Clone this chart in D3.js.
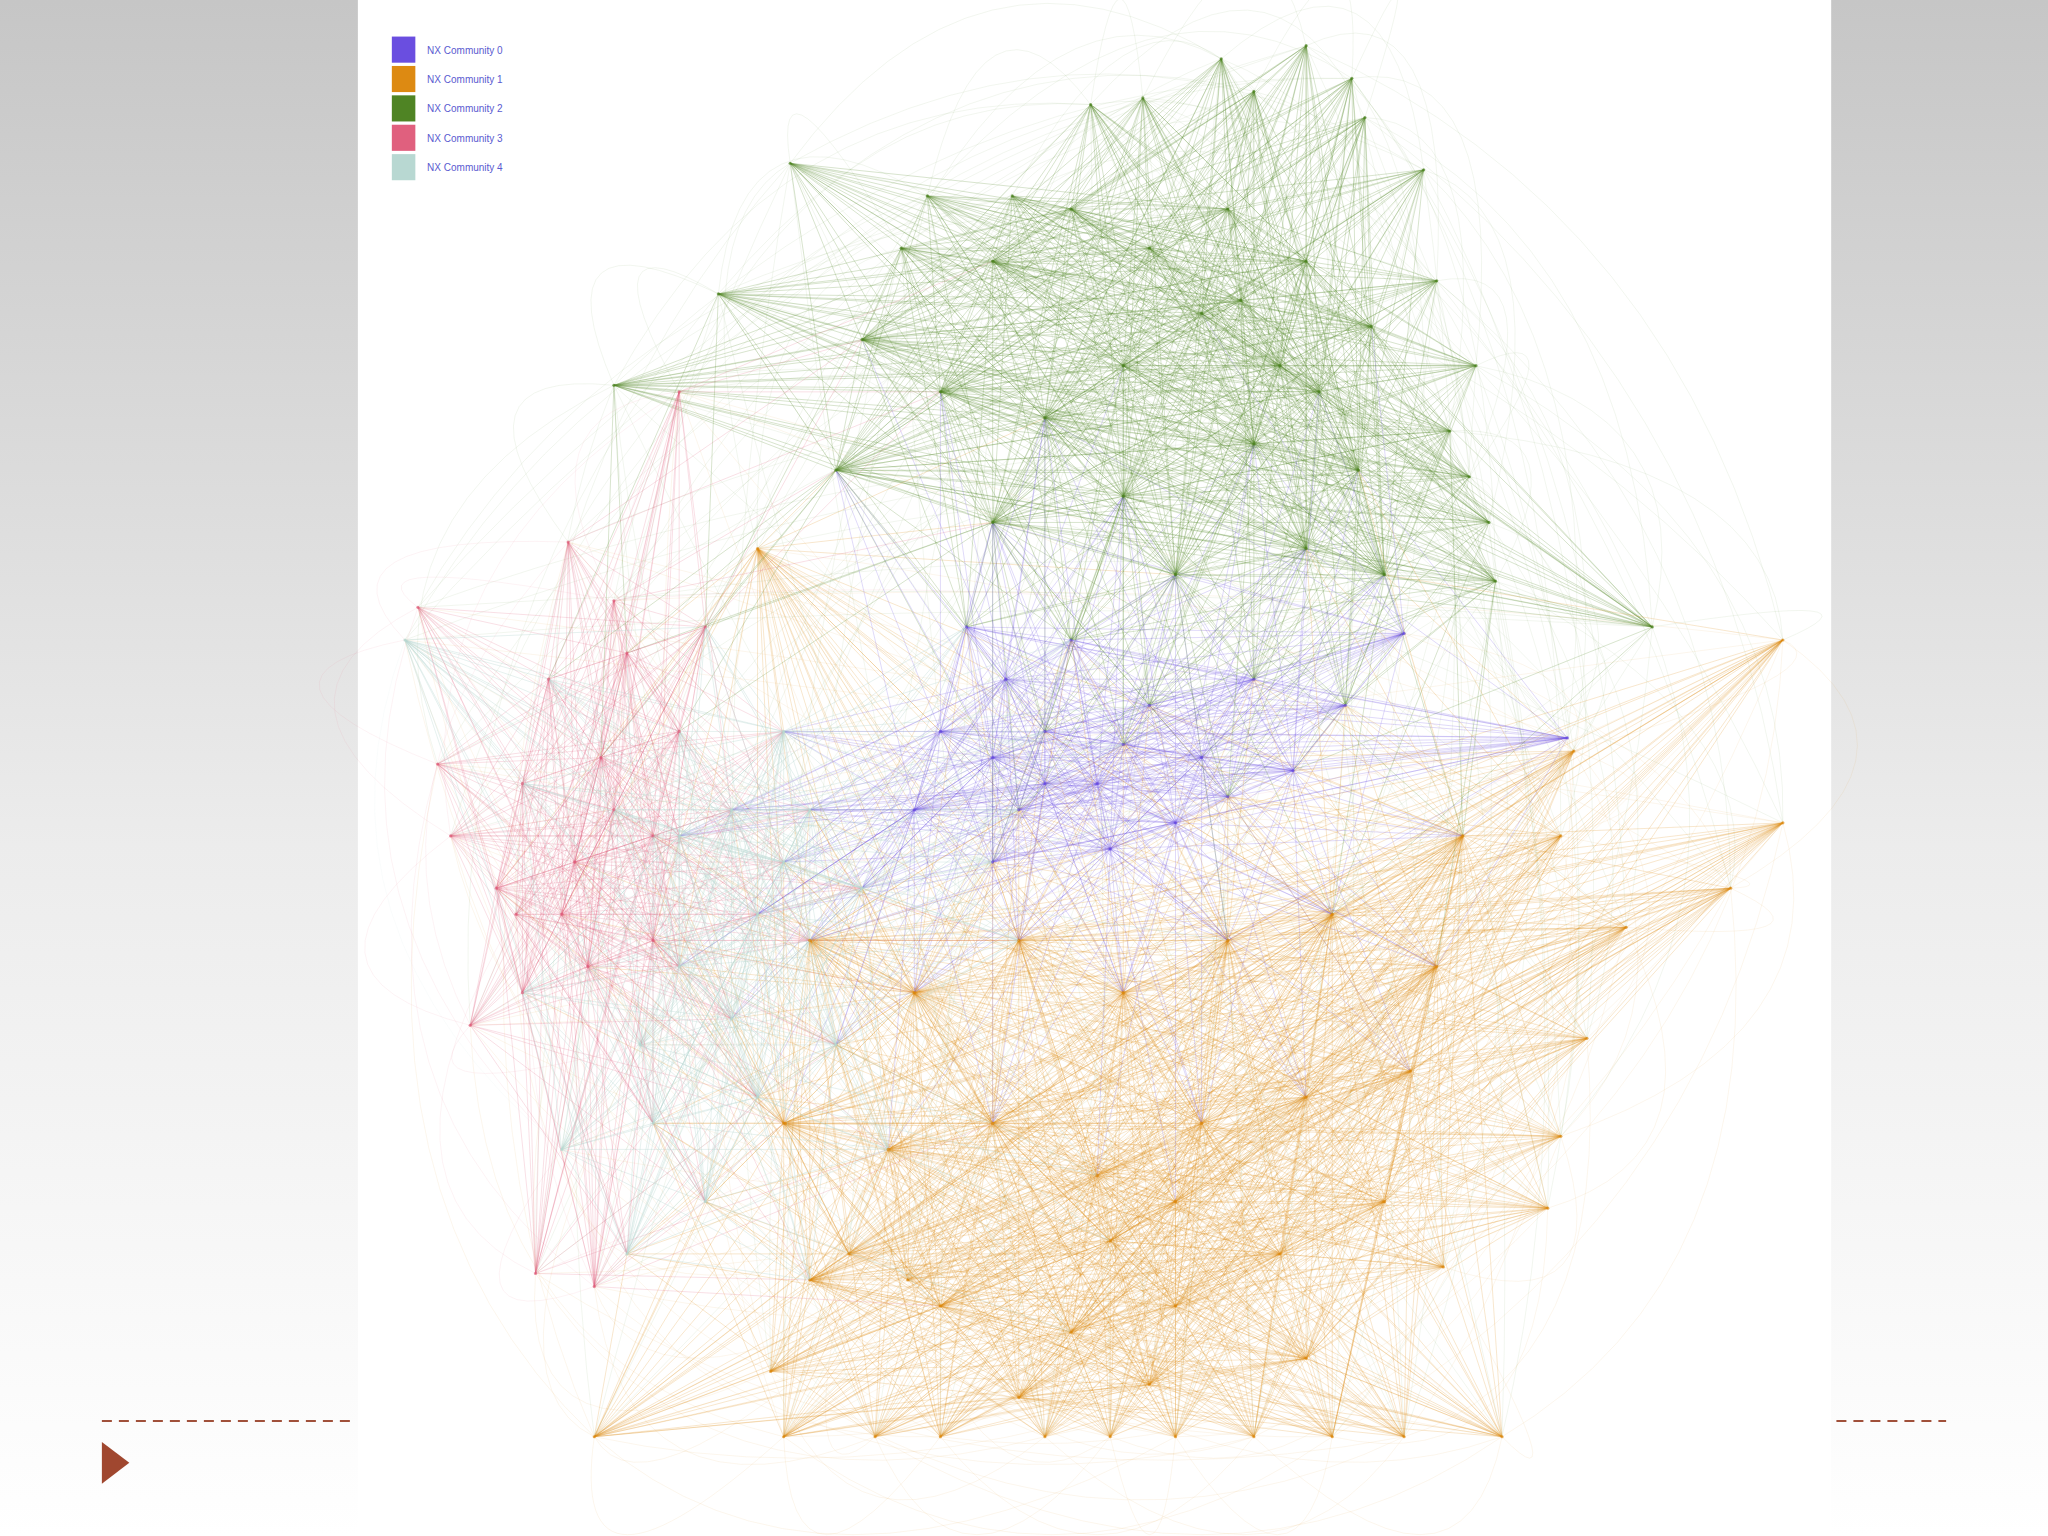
<!DOCTYPE html>
<html><head><meta charset="utf-8">
<script src="https://cdn.jsdelivr.net/npm/d3@7"></script>
<style>body{margin:0;overflow:hidden}svg{display:block}</style>
</head><body>
<svg id="chart" width="2048" height="1536"></svg>
<script>
// community names and colours
const communities = ["NX Community 0", "NX Community 1", "NX Community 2", "NX Community 3", "NX Community 4"];
const colors = ["#6a4ee0", "#dd8a12", "#4f8424", "#e0607e", "#b8d8d2"];
const edgeOpacity = [0.3, 0.3, 0.32, 0.28, 0.5];

// peripheral hub nodes [x, y, community] (reference picture units 1568x1176)
const hubs = [
  [605,125,2],[710,150,2],[775,150,2],[835,80,2],[875,75,2],[935,45,2],[960,70,2],[1000,35,2],
  [1035,60,2],[1045,90,2],[1090,130,2],[1100,215,2],[1110,330,2],[1125,365,2],[1130,280,2],
  [1140,400,2],[1145,445,2],[1265,480,2],[550,225,2],[470,295,2],[690,190,2],
  [1365,490,1],[1365,630,1],[1325,680,1],[1245,710,1],[1215,795,1],[1195,870,1],[1185,925,1],
  [1105,970,1],[1150,1100,1],[1075,1100,1],[1020,1100,1],[960,1100,1],[900,1100,1],[850,1100,1],
  [800,1100,1],[720,1100,1],[670,1100,1],[600,1100,1],[455,1100,1],[590,1050,1],[650,960,1],
  [695,980,1],[1205,575,1],[1195,640,1],[580,420,1],
  [320,465,3],[335,585,3],[345,640,3],[360,785,3],[410,975,3],[455,985,3],[435,415,3],
  [470,460,3],[520,300,3],[395,700,3],
  [310,490,4],[490,800,4],[430,880,4],
  [1075,485,0],[1200,565,0]
];

// core nodes [x, y, community]
const cores = [
  [740,480,0],[770,520,0],[800,560,0],[840,600,0],[880,540,0],[920,580,0],[780,620,0],[850,650,0],
  [960,520,0],[990,590,0],[1030,540,0],[720,560,0],[820,490,0],[900,630,0],[760,660,0],
  [800,600,0],[860,570,0],[760,580,0],[940,610,0],[700,620,0],
  [760,200,2],[820,160,2],[880,190,2],[940,160,2],[1000,200,2],[1050,250,2],[980,280,2],[920,240,2],
  [860,280,2],[800,320,2],[720,300,2],[760,400,2],[860,380,2],[960,340,2],[1040,360,2],[1060,440,2],
  [660,260,2],[900,440,2],[1000,420,2],[640,360,2],[950,230,2],[1010,300,2],
  [620,720,1],[700,760,1],[780,720,1],[860,760,1],[940,720,1],[1020,700,1],[1100,740,1],[600,860,1],
  [680,880,1],[760,860,1],[840,900,1],[920,860,1],[1000,840,1],[1080,820,1],[620,980,1],[720,1000,1],
  [820,1020,1],[900,1000,1],[980,960,1],[1060,920,1],[880,1060,1],[780,1070,1],[1120,640,1],[1000,1040,1],
  [850,950,1],[900,920,1],
  [420,520,3],[460,580,3],[500,640,3],[440,660,3],[400,600,3],[480,500,3],[520,560,3],[450,740,3],
  [400,760,3],[500,720,3],[540,480,3],[380,680,3],[470,620,3],[430,700,3],
  [520,640,4],[580,700,4],[620,620,4],[560,780,4],[500,860,4],[600,560,4],[660,680,4],[540,920,4],
  [640,800,4],[480,960,4],[560,620,4],[520,740,4],[600,660,4],[580,840,4]
];

// which communities' cores are mixed with each other
const crossLinks = [[0,2],[0,1],[1,2],[1,4],[3,4],[3,2],[0,4],[1,3]];
const linked = (a, b) => crossLinks.some(p => (p[0] === a && p[1] === b) || (p[1] === a && p[0] === b));
const dist = (a, b) => Math.hypot(a[0] - b[0], a[1] - b[1]);

const S = 2048 / 1568;
const x = d3.scaleLinear().domain([0, 1568]).range([0, 1568 * S]);
const y = d3.scaleLinear().domain([0, 1176]).range([0, 1176 * S]);

const svg = d3.select("#chart");
const defs = svg.append("defs");
const g = defs.append("linearGradient").attr("id", "bg").attr("x1", 0).attr("y1", 0).attr("x2", 0).attr("y2", 1);
g.append("stop").attr("offset", "0%").attr("stop-color", "#c6c6c6");
g.append("stop").attr("offset", "55%").attr("stop-color", "#ececec");
g.append("stop").attr("offset", "100%").attr("stop-color", "#ffffff");
svg.append("rect").attr("width", 2048).attr("height", 1536).attr("fill", "url(#bg)");
svg.append("rect").attr("x", x(274)).attr("width", x(1402) - x(274)).attr("height", 1536).attr("fill", "#fff");

// build edges
const edges = [];
hubs.forEach(h => cores.forEach(c => { if (c[2] === h[2]) edges.push([h, c, h[2]]); }));
hubs.forEach((h, i) => cores.forEach((c, j) => {
  if (c[2] !== h[2] && linked(h[2], c[2]) && dist(h, c) < 330 && (i + j) % 2 === 0)
    edges.push([h, c, h[2]]);
}));
cores.forEach((a, i) => cores.forEach((b, j) => {
  if (j <= i) return;
  if (a[2] === b[2]) edges.push([a, b, a[2]]);
  else if (linked(a[2], b[2]) && dist(a, b) < 300)
    edges.push([a, b, (i % 2 ? a : b)[2]]);
}));

const net = svg.append("g");

// outer arcs between hubs
const cx = 840, cy = 600;
const arcs = [];
hubs.forEach((a, i) => hubs.forEach((b, j) => {
  if (j > i && (i * 7 + j) % 5 === 0) arcs.push([a, b, a[2]]);
}));
net.selectAll("path.arc").data(arcs).join("path")
  .attr("fill", "none")
  .attr("d", d => {
    const mx = (d[0][0] + d[1][0]) / 2, my = (d[0][1] + d[1][1]) / 2;
    const k = 1.3;
    return `M${x(d[0][0])},${y(d[0][1])}Q${x(cx + (mx - cx) * k)},${y(cy + (my - cy) * k)} ${x(d[1][0])},${y(d[1][1])}`;
  })
  .attr("stroke", d => colors[d[2]]).attr("stroke-width", 0.6).attr("stroke-opacity", 0.13);

net.selectAll("line.e").data(edges).join("line")
  .attr("x1", d => x(d[0][0])).attr("y1", d => y(d[0][1]))
  .attr("x2", d => x(d[1][0])).attr("y2", d => y(d[1][1]))
  .attr("stroke", d => colors[d[2]]).attr("stroke-width", 0.7)
  .attr("stroke-opacity", d => edgeOpacity[d[2]]);

net.selectAll("circle").data(hubs.concat(cores)).join("circle")
  .attr("cx", d => x(d[0])).attr("cy", d => y(d[1])).attr("r", 1.6)
  .attr("fill", d => colors[d[2]]).attr("opacity", 0.7);

// legend
const lg = svg.append("g");
communities.forEach((name, i) => {
  lg.append("rect").attr("x", x(300)).attr("y", y(28 + i * 22.5)).attr("width", x(18)).attr("height", y(20))
    .attr("fill", colors[i]);
  lg.append("text").attr("x", x(327)).attr("y", y(41 + i * 22.5)).text(name)
    .attr("font-family", "Liberation Sans, Arial, sans-serif").attr("font-size", 10).attr("fill", "#5a5ad0");
});

// slide decoration
svg.append("line").attr("x1", x(78)).attr("x2", x(272)).attr("y1", y(1088)).attr("y2", y(1088))
  .attr("stroke", "#a0503a").attr("stroke-width", 2).attr("stroke-dasharray", "10,7");
svg.append("line").attr("x1", x(1406)).attr("x2", x(1490)).attr("y1", y(1088)).attr("y2", y(1088))
  .attr("stroke", "#a0503a").attr("stroke-width", 2).attr("stroke-dasharray", "10,7");
svg.append("path").attr("d", `M${x(78)},${y(1104)}L${x(99)},${y(1120)}L${x(78)},${y(1136)}Z`).attr("fill", "#a0472f");
</script>
</body></html>
